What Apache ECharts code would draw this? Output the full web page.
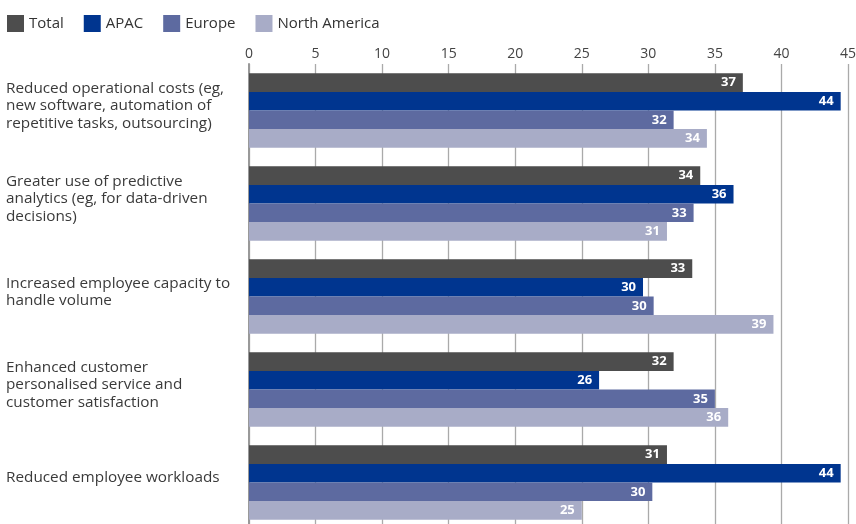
<!DOCTYPE html>
<html>
<head>
<meta charset="utf-8">
<script src="https://cdn.jsdelivr.net/npm/echarts@6/dist/echarts.min.js"></script>
<style>
  html, body { margin: 0; padding: 0; background: #fff; }
  #chart { width: 856px; height: 524px; }
</style>
</head>
<body>
<div id="chart"></div>
<script>
// Benefits by region (% of respondents)
const categories = [
  'Reduced operational costs (eg,\nnew software, automation of\nrepetitive tasks, outsourcing)',
  'Greater use of predictive\nanalytics (eg, for data-driven\ndecisions)',
  'Increased employee capacity to\nhandle volume',
  'Enhanced customer\npersonalised service and\ncustomer satisfaction',
  'Reduced employee workloads'
];
const seriesNames = ['Total', 'APAC', 'Europe', 'North America'];
const totalValues = [37.1, 33.9, 33.3, 31.9, 31.4];
const apacValues = [44.45, 36.4, 29.6, 26.3, 44.45];
const europeValues = [31.9, 33.4, 30.4, 35.0, 30.3];
const northAmericaValues = [34.4, 31.4, 39.4, 36.0, 25.0];
const xTicks = [0, 5, 10, 15, 20, 25, 30, 35, 40, 45];

const colors = ['#4d4d4d', '#00358f', '#5d6aa0', '#a8acc7'];
const valuesBySeries = [totalValues, apacValues, europeValues, northAmericaValues];
const FONT = '"Open Sans"';

const chart = echarts.init(document.getElementById('chart'), null, { renderer: 'canvas' });

chart.setOption({
  animation: false,
  color: colors,
  textStyle: { fontFamily: FONT },
  legend: {
    left: 2,
    top: 10,
    itemWidth: 17,
    itemHeight: 17,
    itemGap: 20,
    icon: 'rect',
    textStyle: { fontFamily: FONT, fontSize: 15, color: '#333' },
    data: seriesNames
  },
  grid: {
    left: 249, top: 64, width: 599, height: 465,
    outerBoundsMode: 'none', containLabel: false
  },
  xAxis: {
    type: 'value',
    position: 'top',
    min: xTicks[0],
    max: xTicks[xTicks.length - 1],
    interval: 5,
    axisLine: { show: false },
    axisTick: { show: false },
    axisLabel: { margin: 3, fontFamily: FONT, fontSize: 14, color: '#444' },
    splitLine: { show: true, lineStyle: { color: '#aaaaaa', width: 1.3 } }
  },
  yAxis: {
    type: 'category',
    inverse: true,
    data: categories,
    axisLine: { show: true, lineStyle: { color: '#999', width: 2 } },
    axisTick: { show: false },
    axisLabel: {
      margin: 243,
      align: 'left',
      fontFamily: FONT,
      fontSize: 15.3,
      lineHeight: 17.5,
      color: '#3a3a3a',
      formatter: v => '{t|' + v.split('\n').join('}\n{t|') + '}',
      rich: {
        t: { fontFamily: FONT, fontSize: 15.3, lineHeight: 17.5, color: '#3a3a3a' }
      },
      padding: [0, 0, 9, 0]
    }
  },
  series: seriesNames.map((name, i) => ({
    name,
    type: 'bar',
    data: valuesBySeries[i],
    barGap: '0%',
    barCategoryGap: '20%',
    itemStyle: { color: colors[i] },
    label: {
      show: true,
      position: 'insideRight',
      distance: 7,
      color: '#fff',
      fontFamily: FONT,
      fontWeight: 'bold',
      fontSize: 13,
      formatter: p => Math.round(p.value)
    }
  }))
});
</script>
</body>
</html>
